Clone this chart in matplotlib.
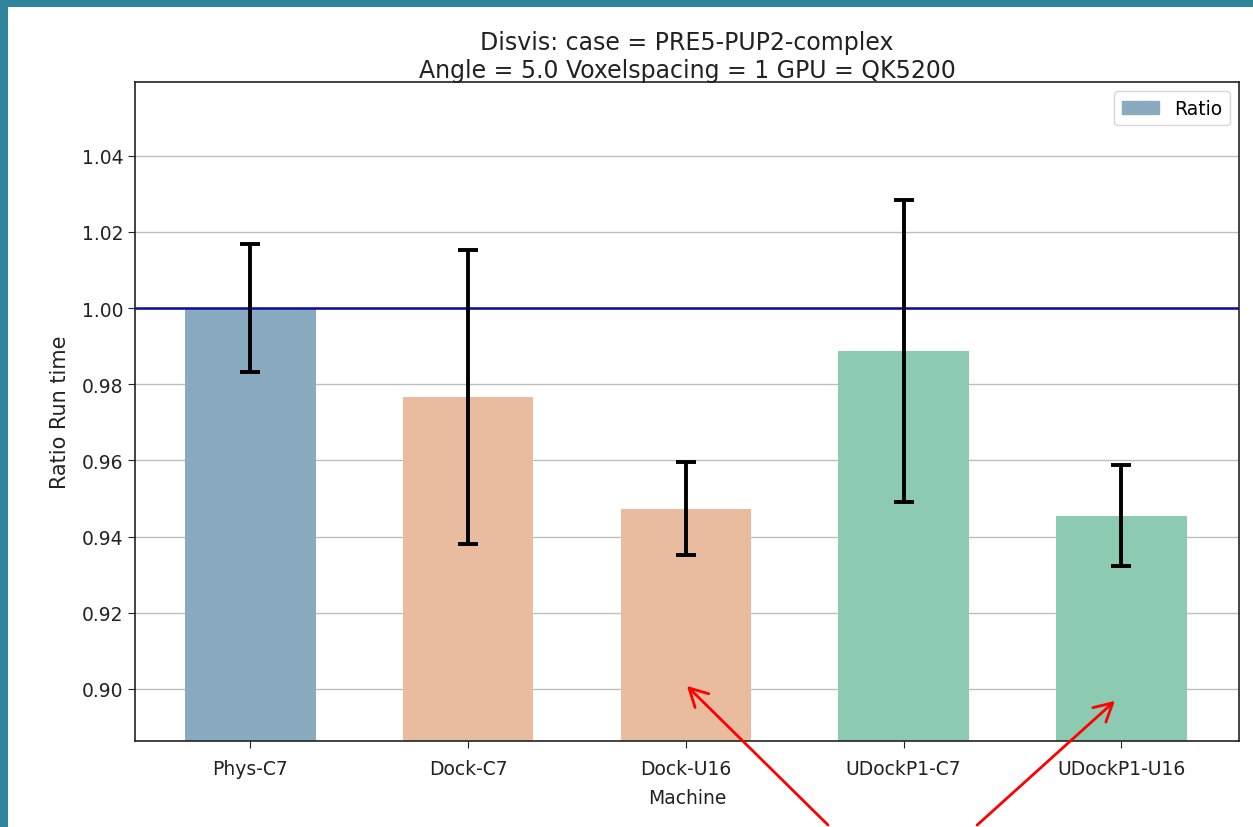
import matplotlib
matplotlib.use("Agg")
import matplotlib.pyplot as plt
from matplotlib.patches import Rectangle, FancyArrowPatch

machines = ["Phys-C7", "Dock-C7", "Dock-U16", "UDockP1-C7", "UDockP1-U16"]
ratio = [1.000, 0.9767, 0.9473, 0.9888, 0.9455]
err = [0.0168, 0.0387, 0.0122, 0.0396, 0.0133]
colors = ["#8aabbf", "#e9bb9f", "#e9bb9f", "#8ccab1", "#8ccab1"]
yticks = [0.90, 0.92, 0.94, 0.96, 0.98, 1.00, 1.02, 1.04]

W, H = 1253, 828
fig = plt.figure(figsize=(W / 100, H / 100), dpi=100)
fig.patch.set_facecolor("#2e859c")
# white screenshot area
fig.add_artist(Rectangle((8 / W, 0), 1 - 8 / W, 1 - 8 / H, transform=fig.transFigure,
                         facecolor="white", edgecolor="none", zorder=0))

ax = fig.add_axes([135 / W, 1 - 742 / H, (1239 - 135) / W, (742 - 83) / H])
x = list(range(len(machines)))
ax.bar(x, ratio, width=0.6, color=colors, label="Ratio", zorder=2)
ax.errorbar(x, ratio, yerr=err, fmt="none", ecolor="black", elinewidth=2.8,
            capsize=7, capthick=2.8, zorder=4)
ax.axhline(1.0, color="#0a0aa0", linewidth=1.8, zorder=3)

ax.set_xlim(-0.53, 4.54)
ax.set_ylim(0.8863, 1.0594)
ax.set_yticks(yticks)
ax.set_yticklabels([f"{v:.2f}" for v in yticks])
ax.set_xticks(x)
ax.set_xticklabels(machines)
ax.tick_params(labelsize=13.5, colors="#222222", length=5)
ax.tick_params(axis="x", pad=8)
ax.yaxis.grid(True, color="#bdbdbd", linewidth=1.0, zorder=0)
ax.set_axisbelow(True)
ax.set_xlabel("Machine", fontsize=13.5, color="#222222", labelpad=7)
ax.set_ylabel("Ratio Run time", fontsize=15, color="#222222", labelpad=8)
ax.set_title("Disvis: case = PRE5-PUP2-complex\nAngle = 5.0 Voxelspacing = 1 GPU = QK5200",
             fontsize=17, color="#222222", pad=3)
for s in ax.spines.values():
    s.set_color("#222222")
    s.set_linewidth(1.2)

leg = ax.legend(loc="upper right", fontsize=13.5, handlelength=2.0)
leg.legend_handles[0].set_color(colors[0])

# red annotation arrows
for tail, tip in [((830, 828), (685, 685)), ((975, 828), (1117, 700))]:
    fig.add_artist(FancyArrowPatch((tail[0] / W, 1 - tail[1] / H), (tip[0] / W, 1 - tip[1] / H),
                                   transform=fig.transFigure, arrowstyle="->,head_length=13,head_width=7",
                                   color="red", linewidth=2, zorder=10))

fig.savefig("out.png", dpi=100, facecolor=fig.get_facecolor())
